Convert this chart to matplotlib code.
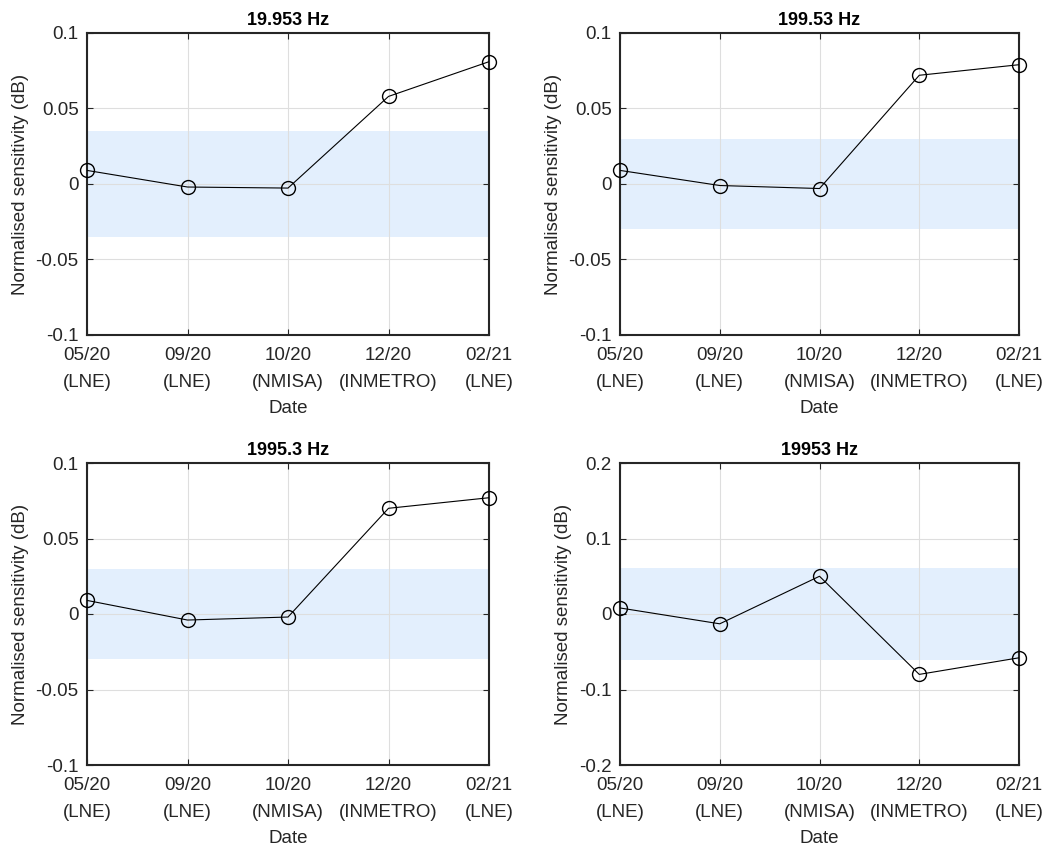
import matplotlib
matplotlib.use("Agg")
import matplotlib.pyplot as plt
import numpy as np

plt.rcParams['font.family'] = ['Liberation Sans', 'DejaVu Sans']

dates = ["05/20\n(LNE)", "09/20\n(LNE)", "10/20\n(NMISA)", "12/20\n(INMETRO)", "02/21\n(LNE)"]
titles = ["19.953 Hz", "199.53 Hz", "1995.3 Hz", "19953 Hz"]
vals_20 = [0.009, -0.002, -0.0027, 0.058, 0.081]
vals_200 = [0.009, -0.001, -0.003, 0.072, 0.079]
vals_2000 = [0.009, -0.004, -0.002, 0.070, 0.077]
vals_20000 = [0.008, -0.013, 0.050, -0.080, -0.058]
bands = [0.035, 0.030, 0.030, 0.061]
ylims = [0.1, 0.1, 0.1, 0.2]
yticks_list = [[-0.1, -0.05, 0, 0.05, 0.1], [-0.1, -0.05, 0, 0.05, 0.1],
               [-0.1, -0.05, 0, 0.05, 0.1], [-0.2, -0.1, 0, 0.1, 0.2]]
series = [vals_20, vals_200, vals_2000, vals_20000]

W, H = 1048, 847
fig = plt.figure(figsize=(W/100, H/100), dpi=100)
boxes = [(87, 33, 489, 335), (620, 33, 1019, 335), (87, 463, 489, 765), (620, 463, 1019, 765)]
FS = 13.5
TXT = '#262626'

def fmt(v):
    if v == 0:
        return "0"
    return "%g" % v

x = np.arange(1, len(dates) + 1)
for i, (l, t, r, b) in enumerate(boxes):
    ax = fig.add_axes([l/W, 1 - b/H, (r-l)/W, (b-t)/H])
    ax.axhspan(-bands[i], bands[i], color='#e3effd', lw=0, zorder=0)
    ax.plot(x, series[i], '-', color='black', lw=0.8, zorder=3)
    ax.plot(x, series[i], 'o', mfc='none', mec='black', ms=10, mew=1.0, zorder=4, clip_on=False)
    ax.set_xlim(1, 5)
    ax.set_ylim(-ylims[i], ylims[i])
    ax.set_xticks(x)
    ax.set_xticklabels(dates, fontsize=FS, color=TXT, linespacing=1.8)
    ax.set_yticks(yticks_list[i])
    ax.set_yticklabels([fmt(v) for v in yticks_list[i]], fontsize=FS, color=TXT)
    ax.grid(True, color='#dedede', lw=0.8)
    ax.set_axisbelow(True)
    ax.tick_params(direction='in', top=True, right=True, length=4, width=0.8, color=TXT)
    ax.tick_params(axis='y', pad=6)
    ax.tick_params(axis='x', pad=8.5)
    for s in ax.spines.values():
        s.set_linewidth(1.5)
        s.set_color(TXT)
    ax.set_title(titles[i], fontsize=13, fontweight='bold', pad=6)
    ax.set_ylabel("Normalised sensitivity (dB)", fontsize=FS, color=TXT, labelpad=5)
    ax.set_xlabel("Date", fontsize=FS, color=TXT, labelpad=6)

fig.savefig("out.png", dpi=100)
